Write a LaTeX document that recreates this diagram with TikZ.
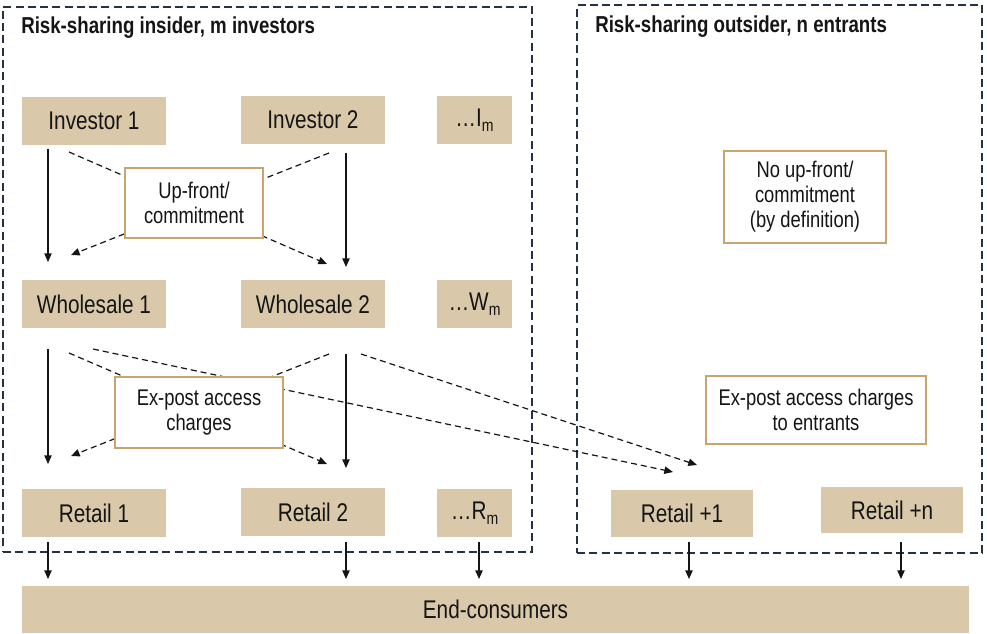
\documentclass[tikz,border=0pt]{standalone}
\usepackage{fontspec}
\setmainfont{Liberation Sans}[FakeStretch=0.81]
\usetikzlibrary{arrows.meta,calc}
\definecolor{tanfill}{HTML}{D9C8A9}
\definecolor{navy}{HTML}{263244}
\definecolor{goldline}{HTML}{C8A46E}
\definecolor{ink}{HTML}{151515}
\newcommand{\bigf}{\fontsize{19.2pt}{23pt}\selectfont}
\newcommand{\smf}{\fontsize{17pt}{18.8pt}\selectfont}
\newcommand{\ttlf}{\fontsize{17.3pt}{20pt}\selectfont\bfseries}
\newcommand{\subm}{\raisebox{-0.4ex}{\fontsize{13pt}{13pt}\selectfont m}}
\begin{document}
\begin{tikzpicture}[x=0.75pt,y=-0.75pt,
  tanbox/.style={fill=tanfill, draw=none, inner sep=0pt, text=ink, font=\bigf,
                 minimum width=108pt, minimum height=36pt},
  narrowbox/.style={tanbox, minimum width=56.25pt},
  notebox/.style={fill=white, draw=goldline, line width=1pt, inner sep=0pt,
                  text=ink, font=\smf, align=center},
  container/.style={draw=navy, line width=1.6pt, dash pattern=on 6pt off 3.2pt,
                    inner sep=0pt, fill=none},
  ttl/.style={anchor=west, inner sep=0pt, text=ink, font=\ttlf},
  flow/.style={draw=ink, line width=1pt, -{Triangle[length=6.5pt,width=5.5pt]}},
  dflow/.style={draw=ink, line width=0.9pt, dash pattern=on 4.5pt off 3pt,
                -{Triangle[length=6.5pt,width=5.5pt]}}]
\useasboundingbox (0,0) rectangle (987,633);

% containers
\node[container, minimum width=396.75pt, minimum height=408.75pt] (insider) at (267.5,279.5) {};
\node[container, minimum width=303.75pt, minimum height=411pt] (outsider) at (779.5,279) {};
\node[ttl] (ttlin) at (21,28) {Risk-sharing insider, m investors};
\node[ttl] (ttlout) at (595,27) {Risk-sharing outsider, n entrants};

% tan boxes
\node[tanbox] (inv1) at (94,121) {Investor 1};
\node[tanbox] (inv2) at (313,120) {Investor 2};
\node[narrowbox] (invm) at (474.5,120) {\ldots I\subm};
\node[tanbox] (ws1) at (94,304) {Wholesale 1};
\node[tanbox] (ws2) at (313,304) {Wholesale 2};
\node[narrowbox] (wsm) at (474.5,304) {\ldots W\subm};
\node[tanbox] (rt1) at (94,513) {Retail 1};
\node[tanbox] (rt2) at (313,512) {Retail 2};
\node[narrowbox] (rtm) at (474.5,513) {\ldots R\subm};
\node[tanbox, minimum width=106.5pt, minimum height=35.25pt] (rtp1) at (682,513.5) {Retail +1};
\node[tanbox, minimum width=106.5pt, minimum height=34.5pt] (rtpn) at (892,510) {Retail +n};
\node[tanbox, minimum width=710.25pt, minimum height=35.25pt] (endc) at (495.5,609.5) {End-consumers};

% arrow end points
\coordinate (a1s) at (48,149);  \coordinate (a1e) at (48,262);
\coordinate (a2s) at (346,153); \coordinate (a2e) at (346,267);
\coordinate (a3s) at (48,349);  \coordinate (a3e) at (48,464);
\coordinate (a4s) at (346,354); \coordinate (a4e) at (346,468);
\coordinate (c1) at (48,542);   \coordinate (c1e) at (48,579);
\coordinate (c2) at (346,542);  \coordinate (c2e) at (346,579);
\coordinate (cm) at (479,542);  \coordinate (cme) at (479,579);
\coordinate (cp1) at (689,542); \coordinate (cp1e) at (689,579);
\coordinate (cpn) at (901,542); \coordinate (cpne) at (901,579);
\coordinate (d1s) at (69,152);  \coordinate (d1e) at (327,264);
\coordinate (d2s) at (329,153); \coordinate (d2e) at (71,255);
\coordinate (d3s) at (69,353);  \coordinate (d3e) at (327,464);
\coordinate (d4s) at (329,354); \coordinate (d4e) at (71,456);
\coordinate (d5s) at (93,349);  \coordinate (d5e) at (673,472);
\coordinate (d6s) at (361,354); \coordinate (d6e) at (697,465);

% solid flows
\draw[flow] (a1s) -- (a1e);
\draw[flow] (a2s) -- (a2e);
\draw[flow] (a3s) -- (a3e);
\draw[flow] (a4s) -- (a4e);
\draw[flow] (c1) -- (c1e);
\draw[flow] (c2) -- (c2e);
\draw[flow] (cm) -- (cme);
\draw[flow] (cp1) -- (cp1e);
\draw[flow] (cpn) -- (cpne);

% dashed flows (behind note boxes)
\draw[dflow] (d1s) -- (d1e);
\draw[dflow] (d2s) -- (d2e);
\draw[dflow] (d3s) -- (d3e);
\draw[dflow] (d4s) -- (d4e);
\draw[dflow] (d5s) -- (d5e);
\draw[dflow] (d6s) -- (d6e);

% note boxes
\node[notebox, minimum width=103.5pt, minimum height=52.5pt] (upfront) at (194,203) {Up-front/\\commitment};
\node[notebox, minimum width=126pt, minimum height=53.25pt] (expost) at (199,412.5) {Ex-post access\\charges};
\node[notebox, minimum width=121.5pt, minimum height=69pt] (noup) at (805,197) {No up-front/\\commitment\\(by definition)};
\node[notebox, minimum width=165pt, minimum height=51pt] (expostent) at (816,410) {Ex-post access charges\\to entrants};
\end{tikzpicture}
\end{document}
